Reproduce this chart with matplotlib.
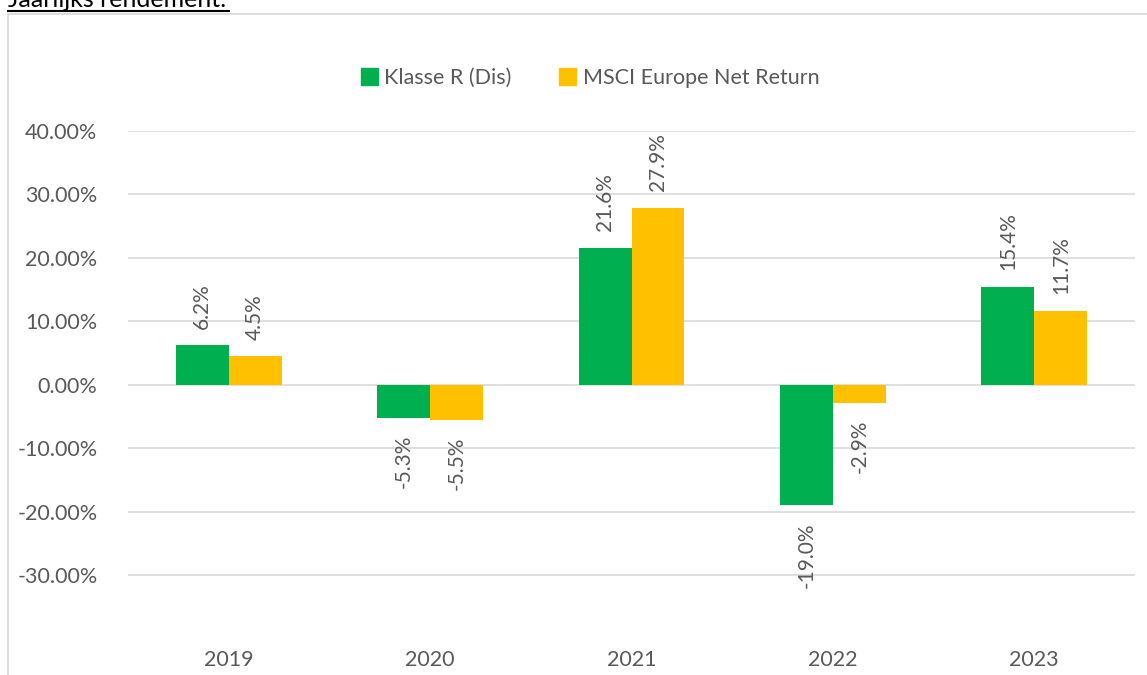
import numpy as np
import matplotlib.pyplot as plt
import matplotlib.patches as patches
from matplotlib.lines import Line2D
from matplotlib.ticker import FuncFormatter

# data
years = ["2019", "2020", "2021", "2022", "2023"]
klasse_r = [6.2, -5.3, 21.6, -19.0, 15.4]
msci = [4.5, -5.5, 27.9, -2.9, 11.7]
series_names = ["Klasse R (Dis)", "MSCI Europe Net Return"]
y_ticks = [-30, -20, -10, 0, 10, 20, 30, 40]

green = "#00B050"
yellow = "#FFC000"
grey_txt = "#595959"
grid_col = "#D9D9D9"

plt.rcParams['font.family'] = ['Lato', 'DejaVu Sans']

W, H = 1147, 675
fig = plt.figure(figsize=(W / 100, H / 100), dpi=100)

def fx(px):
    return px / W

def fy(py):
    return 1 - py / H

# outer chart frame (partly cut off by the picture edge)
fig.add_artist(patches.Rectangle((fx(8), fy(700)), fx(1200), fy(14) - fy(700),
                                 transform=fig.transFigure, fill=False,
                                 edgecolor=grid_col, linewidth=1.3))

# cut-off heading above the chart
fig.text(fx(8), fy(7), "Jaarlijks rendement:", fontsize=18, color="black",
         ha="left", va="baseline")
fig.add_artist(Line2D([fx(8), fx(229)], [fy(11), fy(11)], transform=fig.transFigure,
                      color="black", linewidth=1.5))

ylo, yhi = -40, 40
ax = fig.add_axes([fx(128), fy(638.6), fx(1135) - fx(128), fy(131) - fy(638.6)])
ax.set_ylim(ylo, yhi)
x = np.arange(len(years))
bw = 0.263
ax.set_xlim(-0.5, len(years) - 0.5)

for vals, col, off in [(klasse_r, green, -bw / 2), (msci, yellow, bw / 2)]:
    ax.bar(x + off, vals, width=bw, color=col, zorder=3)
    for xi, v in zip(x, vals):
        ax.annotate(f"{v:.1f}%", (xi + off, v), xytext=(0, 12 if v >= 0 else -12),
                    textcoords="offset points", rotation=90, ha="center",
                    va="bottom" if v >= 0 else "top", fontsize=15, color=grey_txt)

ax.set_yticks(y_ticks)
ax.yaxis.set_major_formatter(FuncFormatter(lambda v, p: f"{v:.2f}%"))
ax.set_xticks(x)
ax.set_xticklabels(years)
ax.grid(axis="y", color=grid_col, linewidth=1.2, zorder=0)
ax.tick_params(axis="y", length=0, pad=22, labelsize=15.5, labelcolor=grey_txt)
ax.tick_params(axis="x", length=0, pad=8, labelsize=15.5, labelcolor=grey_txt)
for s in ax.spines.values():
    s.set_visible(False)

handles = [patches.Patch(color=green), patches.Patch(color=yellow)]
fig.legend(handles, series_names, loc="center", bbox_to_anchor=(fx(590), fy(78)),
           ncol=2, frameon=False, fontsize=15.5, labelcolor=grey_txt,
           handlelength=0.8, handleheight=0.8, handletextpad=0.3, columnspacing=2.2)

fig.savefig("out.png", dpi=100)
